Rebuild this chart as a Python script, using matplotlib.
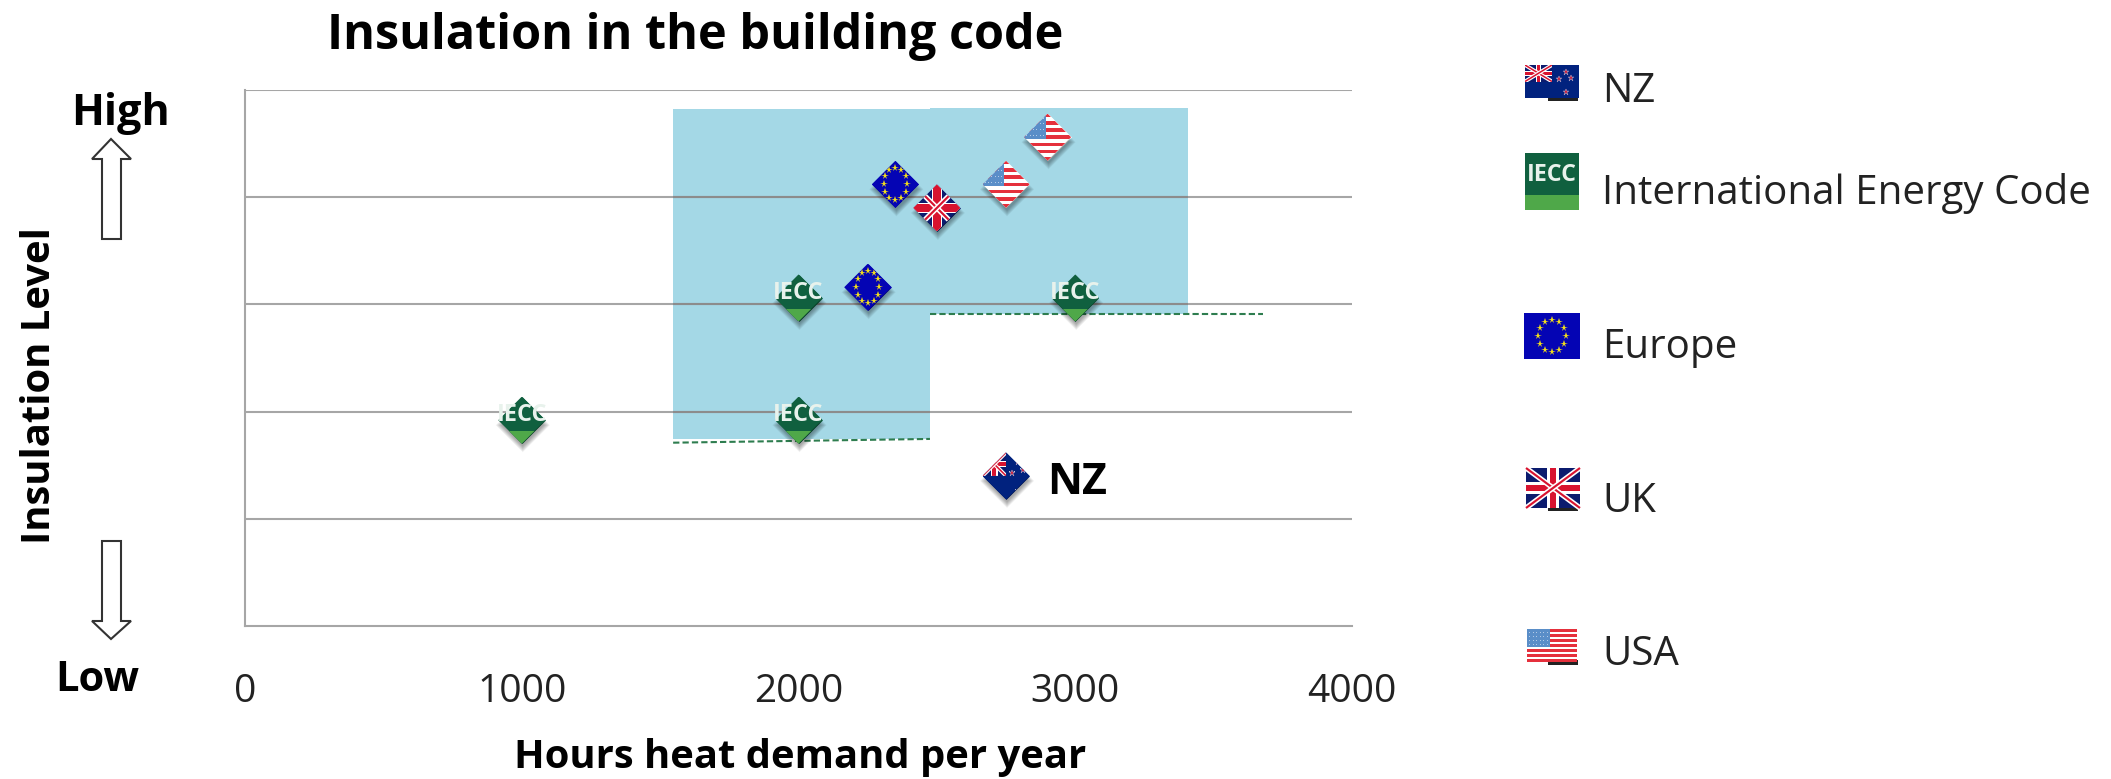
import numpy as np
import matplotlib
matplotlib.use("Agg")
import matplotlib.pyplot as plt
from matplotlib.patches import Polygon, Rectangle

plt.rcParams['font.family'] = ['Open Sans', 'DejaVu Sans']

#%% data
iecc_x = [1000, 2000, 2000, 3000]
iecc_y = [1.92, 1.92, 3.06, 3.06]
eu_x = [2250, 2350]
eu_y = [3.16, 4.12]
uk_x = [2500]
uk_y = [3.90]
usa_x = [2750, 2900]
usa_y = [4.12, 4.56]
nz_x = [2750]
nz_y = [1.40]

band_x = [1547, 2475, 2475, 3407, 3407, 2475, 2475, 1547]
band_y = [4.82, 4.82, 4.83, 4.83, 2.91, 2.91, 1.745, 1.745]
code_line1_x = [1547, 2475]
code_line1_y = [1.71, 1.745]
code_line2_x = [2475, 3678]
code_line2_y = [2.91, 2.91]

x_ticks = [0, 1000, 2000, 3000, 4000]
y_grid = [0, 1, 2, 3, 4, 5]

title = "Insulation in the building code"
x_label = "Hours heat demand per year"
y_label = "Insulation Level"
legend_labels = ["NZ", "International Energy Code", "Europe", "UK", "USA"]

#%% colours
BLUE_BAND = "#A4D8E6"
GRID = "#A6A6A6"
GRID_ON_BAND = "#8C8C8C"
TXT = "#222222"
NAVY = "#0B1B6E"
NZ_BLUE = "#01227E"
EU_BLUE = "#0404B4"
RED = "#D8132F"
IECC_GREEN = "#10603F"
IECC_LIGHT = "#4FA849"
USA_RED = "#E5303C"
USA_BLUE = "#5A8EC8"
YELLOW = "#F2DE1B"

W, H = 2111, 779
fig = plt.figure(figsize=(W/100, H/100), dpi=100)
ax = fig.add_axes([245/W, 1-626/H, 1107/W, 536/H])
ax.set_xlim(0, 4000)
ax.set_ylim(0, 5)

band = Polygon(np.column_stack([band_x, band_y]), closed=True, fc=BLUE_BAND, ec="none", zorder=1)
ax.add_patch(band)
ax.hlines(y_grid[1:], 0, 4000, color=GRID, lw=1.5, zorder=2)
on_band = ax.hlines(y_grid[1:], 0, 4000, color=GRID_ON_BAND, lw=1.5, zorder=2.1)
on_band.set_clip_path(band)

ax.plot(code_line1_x, code_line1_y, color="#2E7D4F", lw=1.5, ls=(0, (3, 1.5)), zorder=3)
ax.plot(code_line2_x, code_line2_y, color="#2E7D4F", lw=1.5, ls=(0, (3, 1.5)), zorder=3)

for s in ['top', 'right']:
    ax.spines[s].set_visible(False)
for s in ['left', 'bottom']:
    ax.spines[s].set_color(GRID)
    ax.spines[s].set_linewidth(1.5)
ax.set_yticks([])
ax.set_xticks(x_ticks)
ax.tick_params(axis='x', length=0, labelsize=28, labelcolor=TXT, pad=34)

ax.set_title(title, x=(695-245)/1107, y=(626-57)/536, fontsize=35, fontweight='bold', color="black")
ax.set_xlabel(x_label, fontsize=28.8, fontweight='bold', color="black", va='baseline')
ax.xaxis.set_label_coords((800-245)/1107, -(768-626)/536)
ax.set_ylabel(y_label, fontsize=28.8, fontweight='bold', color="black", va='center')
ax.yaxis.set_label_coords((40-245)/1107, (626-386)/536)

# base diamonds
for xs, ys, c in [(iecc_x, iecc_y, IECC_GREEN), (eu_x, eu_y, EU_BLUE), (uk_x, uk_y, NAVY),
                  (usa_x, usa_y, "white"), (nz_x, nz_y, NZ_BLUE)]:
    ax.scatter(xs, ys, marker='D', s=572, color=c, lw=0, zorder=4)

# pixel overlay for flags and annotations
ov = fig.add_axes([0, 0, 1, 1], facecolor="none")
ov.set_xlim(0, W)
ov.set_ylim(H, 0)
ov.axis("off")


def rect(x, y, w, h, c, clip):
    r = Rectangle((x, y), w, h, fc=c, ec="none")
    ov.add_patch(r)
    r.set_clip_path(clip)


def union_jack(x, y, w, h, clip, k=0.7, white=0.28):
    rect(x, y, w, h, NAVY, clip)
    for (a, b), (c, d) in [((x, y), (x+w, y+h)), ((x, y+h), (x+w, y))]:
        ov.plot([a, c], [b, d], color="white", lw=5.5*k, solid_capstyle='butt', clip_path=clip)
        ov.plot([a, c], [b, d], color=RED, lw=2.2*k, solid_capstyle='butt', clip_path=clip)
    cw = white*h
    rect(x, y+h/2-cw/2, w, cw, "white", clip)
    rect(x+w/2-cw/2, y, cw, h, "white", clip)
    cr = 0.17*h
    rect(x, y+h/2-cr/2, w, cr, RED, clip)
    rect(x+w/2-cr/2, y, cr, h, RED, clip)


def draw_nz(x, y, w, h, clip, diamond):
    rect(x, y, w, h, NZ_BLUE, clip)
    if diamond:
        tri = Polygon([(x, y+h/2), (x+w/2, y), (x+w/2, y+h/2)], fc="none", ec="none")
    else:
        tri = Polygon([(x, y), (x+w/2, y), (x+w/2, y+h/2), (x, y+h/2)], fc="none", ec="none")
    ov.add_patch(tri)
    union_jack(x, y, w/2, h/2, tri, k=0.5)
    for u, v in [(0.75, 0.2), (0.63, 0.43), (0.85, 0.38), (0.75, 0.82)]:
        ov.plot(x+u*w, y+v*h, marker='*', ms=5, color="#C8203C", mew=0.3, mec="#C8C8E0", clip_path=clip)


def draw_iecc(x, y, w, h, clip, diamond):
    rect(x, y, w, h, IECC_GREEN, clip)
    rect(x, y+0.74*h, w, 0.26*h, IECC_LIGHT, clip)
    t = ov.text(x+w/2, y+(0.40 if diamond else 0.38)*h, "IECC", color="#E8F2EC",
                fontsize=(0.36 if diamond else 0.31)*w,
                fontweight='bold', ha='center', va='center', clip_on=True)
    t.set_clip_path(clip)


def draw_eu(x, y, w, h, clip):
    rect(x, y, w, h, EU_BLUE, clip)
    for a in np.arange(0, 360, 30):
        ov.plot(x+w/2+0.25*w*np.cos(np.radians(a)), y+h/2+0.34*h*np.sin(np.radians(a)), marker='*',
                ms=5.5, color=YELLOW, mew=0, clip_path=clip)


def draw_usa(x, y, w, h, clip):
    rect(x, y, w, h, "white", clip)
    for i in range(0, 13, 2):
        rect(x, y+i*h/13, w, h/13, USA_RED, clip)
    rect(x, y, 0.46*w, 7*h/13, USA_BLUE, clip)
    for i in range(6):
        for j in range(4):
            ov.plot(x+(i+0.7)*0.07*w, y+(j+0.7)*0.12*h, marker='.', ms=1.5, color="#C5D8EE", mew=0, clip_path=clip)


def draw_flag(kind, x, y, w, h, clip, diamond=False):
    if kind == "nz":
        draw_nz(x, y, w, h, clip, diamond)
    elif kind == "iecc":
        draw_iecc(x, y, w, h, clip, diamond)
    elif kind == "eu":
        draw_eu(x, y, w, h, clip)
    elif kind == "uk":
        union_jack(x, y, w, h, clip, white=0.22 if diamond else 0.28)
    elif kind == "usa":
        draw_usa(x, y, w, h, clip)


def diamond_marker(kind, dx, dy):
    d = ax.transData.transform((dx, dy))
    cx, cy = d[0], H - d[1]
    r = 23.5
    # soft shadow
    for g in np.linspace(1.15, 0.9, 7):
        ov.add_patch(Polygon([(cx-r*g+1, cy+5), (cx+1, cy-r*g+5), (cx+r*g+1, cy+5), (cx+1, cy+r*g+5)],
                             fc="black", ec="none", alpha=0.055))
    clip = Polygon([(cx-r, cy), (cx, cy-r), (cx+r, cy), (cx, cy+r)], fc="none", ec="none")
    ov.add_patch(clip)
    draw_flag(kind, cx-r, cy-r, 2*r, 2*r, clip, diamond=True)


for kind, xs, ys in [("iecc", iecc_x, iecc_y), ("eu", eu_x, eu_y), ("uk", uk_x, uk_y),
                     ("usa", usa_x, usa_y), ("nz", nz_x, nz_y)]:
    for dx, dy in zip(xs, ys):
        diamond_marker(kind, dx, dy)

ov.text(1047, 494, "NZ", fontsize=31, fontweight='bold', color="black", va='baseline')

# legend, flags as small pictures
legend_kinds = ["nz", "iecc", "eu", "uk", "usa"]
legend_boxes = [(1525, 65, 54, 33), (1525, 153, 54, 57), (1524, 313, 56, 46), (1526, 468, 54, 40), (1527, 629, 50, 33)]
legend_base = [102, 204, 358, 512, 665]
legend_stub = [True, False, False, True, True]
for kind, box, base, stub, lab in zip(legend_kinds, legend_boxes, legend_base, legend_stub, legend_labels):
    x, y, w, h = box
    if stub:
        ov.add_patch(Rectangle((1548, y+h-2), 30, 5, fc="#222222", ec="none"))
    clip = Rectangle((x, y), w, h, fc="none", ec="none")
    ov.add_patch(clip)
    draw_flag(kind, x, y, w, h, clip)
    ov.text(1602, base, lab, fontsize=29, color=TXT, va='baseline')

# High / Low block arrows
ov.text(120.5, 125, "High", fontsize=31, fontweight='bold', color="black", ha='center', va='baseline')
ov.text(97, 691, "Low", fontsize=30, fontweight='bold', color="black", ha='center', va='baseline')
ov.add_patch(Polygon([(111, 139), (131, 159), (121, 159), (121, 239), (102, 239), (102, 159), (92, 159)],
                     closed=True, fc="white", ec="#333333", lw=1.5))
ov.add_patch(Polygon([(111, 639), (131, 621), (121, 621), (121, 541), (102, 541), (102, 621), (92, 621)],
                     closed=True, fc="white", ec="#333333", lw=1.5))

fig.savefig("out.png", dpi=100)
